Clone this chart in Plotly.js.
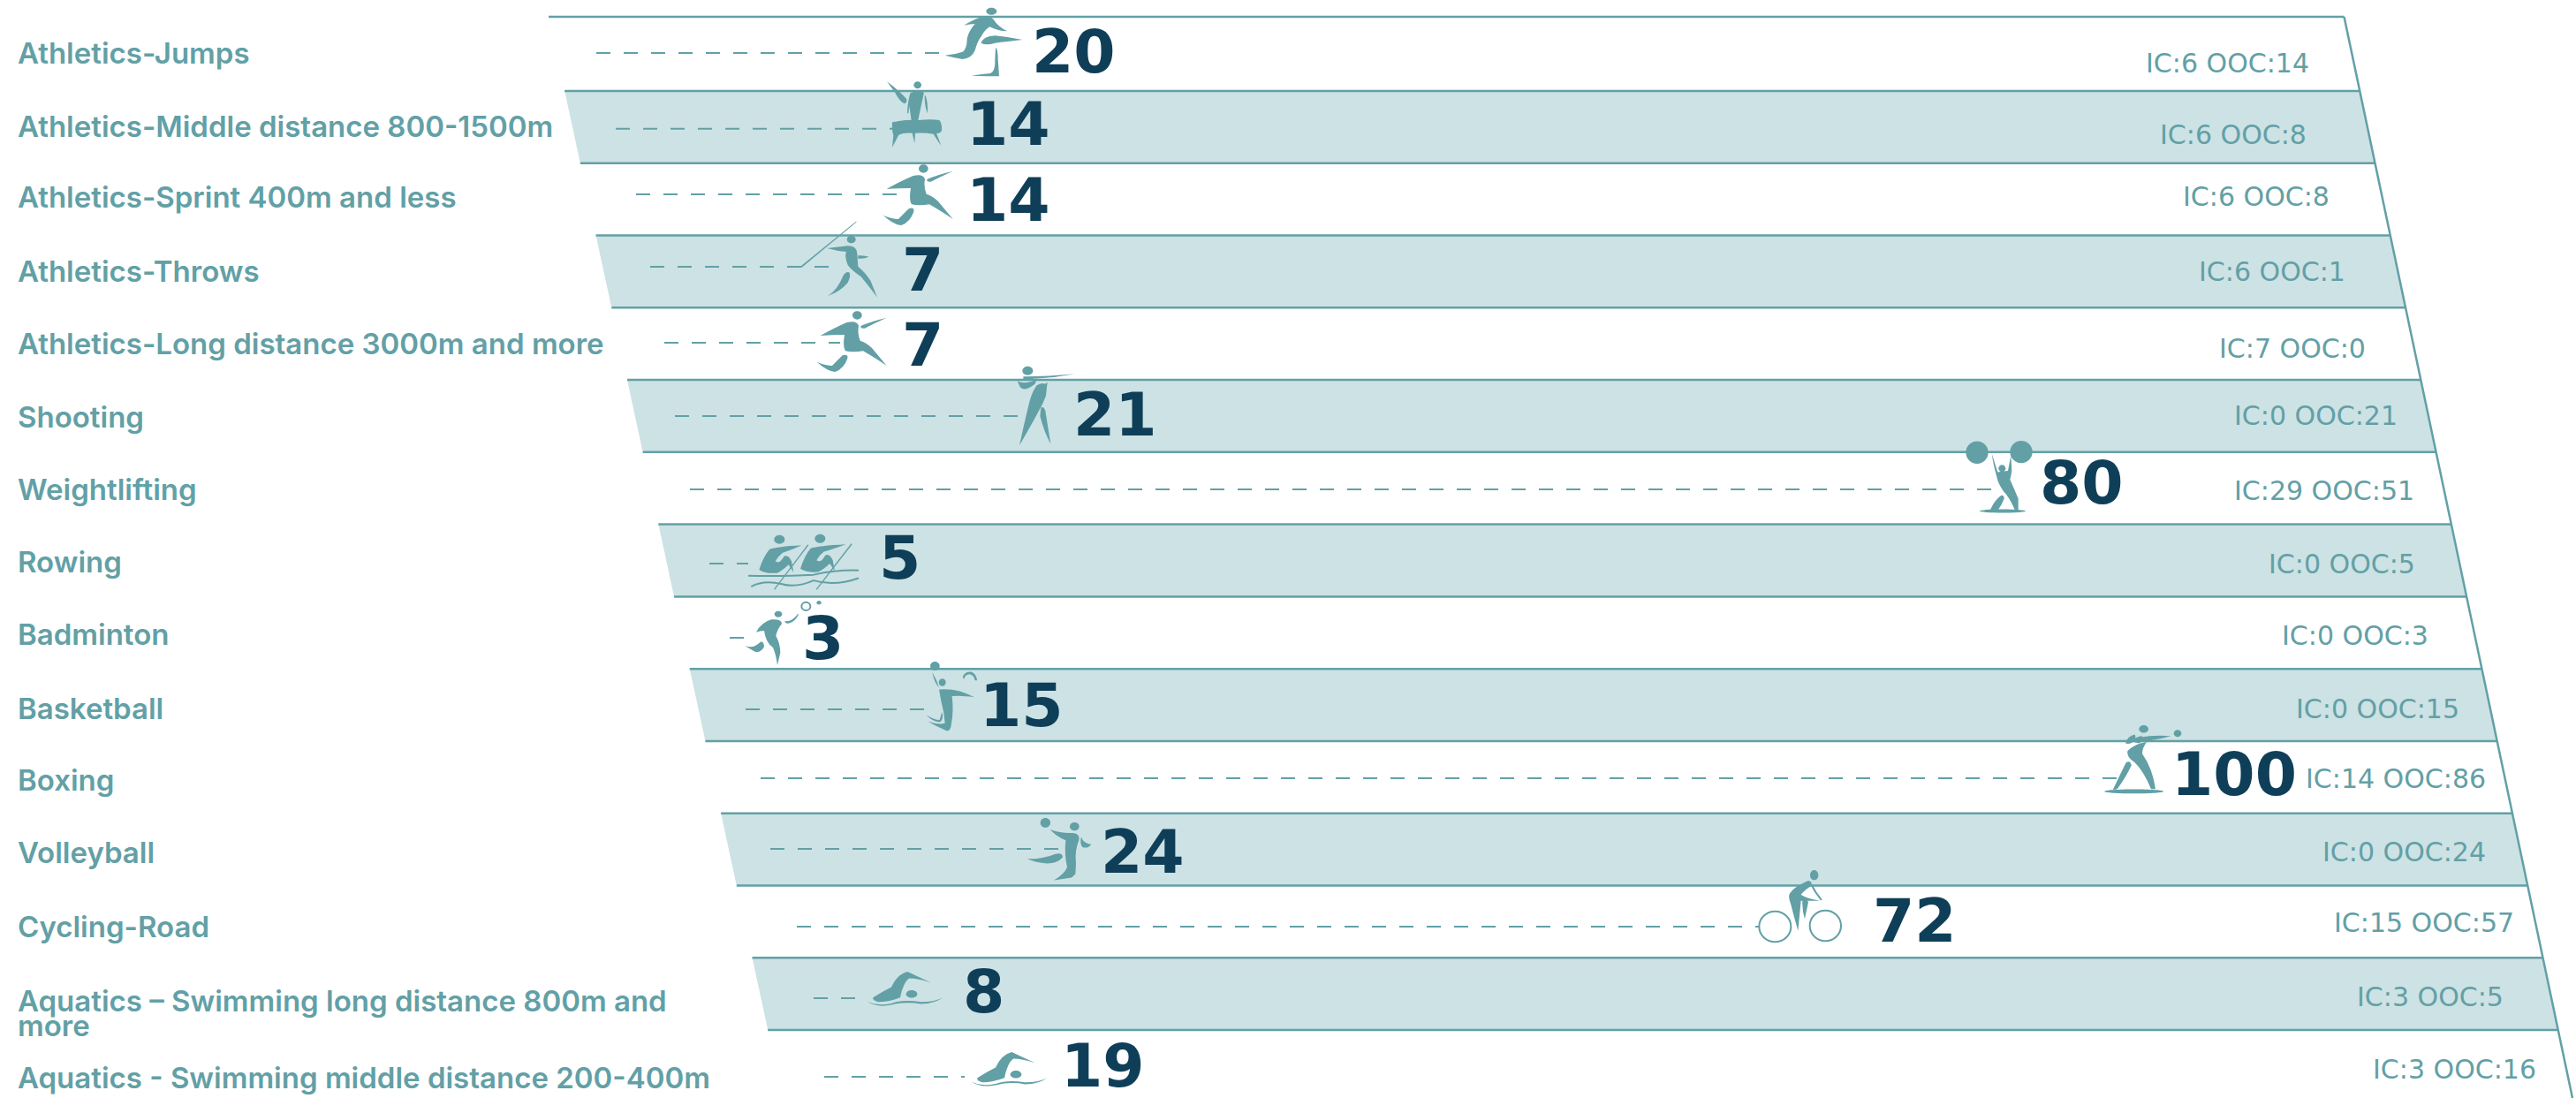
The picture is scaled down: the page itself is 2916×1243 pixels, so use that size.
<!DOCTYPE html>
<html>
<head>
<meta charset="utf-8">
<script src="https://cdn.plot.ly/plotly-3.0.1.min.js"></script>
<style>html,body{margin:0;padding:0;background:#fff}#chart{width:2916px;height:1243px}</style>
</head>
<body>
<div id="chart"></div>
<script>
/* ---------- chart data ---------- */
const categories = [
  "Athletics-Jumps", "Athletics-Middle distance 800-1500m", "Athletics-Sprint 400m and less",
  "Athletics-Throws", "Athletics-Long distance 3000m and more", "Shooting", "Weightlifting",
  "Rowing", "Badminton", "Basketball", "Boxing", "Volleyball", "Cycling-Road",
  "Aquatics – Swimming long distance 800m and<br>more", "Aquatics - Swimming middle distance 200-400m"
];
const totals = [20, 14, 14, 7, 7, 21, 80, 5, 3, 15, 100, 24, 72, 8, 19];
const inCompetition = [6, 6, 6, 6, 7, 0, 29, 0, 0, 0, 14, 0, 15, 3, 3];
const outOfCompetition = [14, 8, 8, 1, 0, 21, 51, 5, 3, 15, 86, 24, 57, 5, 16];
const icons = ["hurdler","pommel","sprinter","javelin","sprinter","shooter","lifter","rowers",
  "badminton","basketball","boxer","volleyball","cyclist","swimmer","swimmer"];

/* ---------- layout tuning (the source is a hand-placed infographic) ---------- */
const dashStartPx = [675,697,720,736,752,764,781,803,826,844,861,872,902,921,933];
const dashNudgePx = [-46,-14,-2,31,39,24,183,-33,7,7,0,19,40,40,-12];
const rowNudgePx  = [-2.1,1.8,-5.7,-5.4,-1.2,0,1.2,3.5,5.7,5,1.1,-0.7,5.6,4.8,12];
const labelGapPx  = [92,82,70,76,68,53,44,146,51,60,56,41,126,120,107];
const labelRowPx  = [-4.1,-2.9,1.3,-2.4,0.8,-1,-5.8,-3,6.3,0,-2.9,3.3,-0.4,-2.2,0];
const icLeftPx    = [2427,2443,2469,2487,2510,2527,2527,2566,2581,2597,2608,2627,2640,2666,2684];
const icRowPx     = [8.9,9.1,-2.7,-0.4,4.8,0,3.2,3.5,3.7,4,2.1,3.3,1.6,3.8,4];
const catRowPx    = [-2.6,-0.9,-2.7,-0.4,-0.2,1,1.2,1.5,1.7,4,3.6,3.3,5.6,7.8,13];
const catLineStepPx = 28;
const iconOffset  = {4:[-4,-2], 13:[6,-2]};

const TEAL = "#62a0a6", BAND = "#cde2e4", NAVY = "#0f3f58";
const ROW_H = 81.77, TOP = 21.23, FIRST_LINE = 19;
const px2v = p => (p - 800) / 16;
const py2r = p => (p - TOP) / ROW_H - 0.5;
const leftEdge = y => 621 + (y - 19) * 0.2164;
const rightEdge = y => 2653.5 + (y - 19) * 0.2112;

/* ---------- decorative pictograms, traced in zoomed-crop units ---------- */
const E = (cx, cy, rx, ry) => {
  const k = 0.5523, a = rx * k, b = ry * k;
  return `M${cx-rx} ${cy} C${cx-rx} ${cy-b} ${cx-a} ${cy-ry} ${cx} ${cy-ry} C${cx+a} ${cy-ry} ${cx+rx} ${cy-b} ${cx+rx} ${cy} C${cx+rx} ${cy+b} ${cx+a} ${cy+ry} ${cx} ${cy+ry} C${cx-a} ${cy+ry} ${cx-rx} ${cy+b} ${cx-rx} ${cy} Z`;
};
const S = d => ({d, stroke: 2});
const ICONS = {
  hurdler: {o:[583,179], sy:3, parts:[E(728,37,18,12),
    "M635 85 Q665 65 690 58 Q720 50 735 65 Q750 90 782 105 Q750 105 722 90 Q705 100 695 120 Q680 140 672 170 Q660 198 630 200 Q600 195 570 187 Q610 182 630 175 Q645 165 645 130 Q650 105 672 80 Q655 80 635 85 Z",
    "M692 145 Q700 122 740 120 Q790 125 833 134 Q780 140 740 145 Q710 155 692 145 Z",
    "M742 160 Q750 165 750 200 L754 258 Q710 258 660 256 Q700 250 725 248 Q742 240 740 200 Z"]},
  pommel: {o:[390,437], sy:3, parts:[E(476,289,13,12),
    "M372 277 Q410 305 438 335 Q442 350 432 352 Q415 345 400 315 Z",
    "M452 315 Q475 305 498 314 L490 350 L478 408 L455 408 L448 360 L445 385 L441 385 Q442 345 452 315 Z",
    "M503 325 Q512 350 510 385 Q500 365 500 325 Z",
    "M390 415 Q440 405 480 408 Q520 403 550 408 Q560 420 558 445 Q550 455 540 452 L556 494 Q545 480 530 455 Q500 450 468 452 L466 487 L458 452 Q430 450 412 458 L390 500 L394 460 Q388 445 390 415 Z"]},
  sprinter: {o:[425,661], sy:3, parts:[E(495,574,16,14),
    "M370 643 Q420 615 460 598 Q495 590 500 610 Q495 635 505 660 Q525 665 545 685 L595 745 Q550 715 515 695 Q480 700 455 695 Q445 680 452 640 Q410 640 370 643 Z",
    "M507 610 Q540 595 595 582 Q555 600 520 618 Q505 620 507 610 Z",
    "M358 732 Q390 745 410 745 Q430 725 445 710 Q465 703 462 720 Q450 755 420 766 Q395 765 358 732 Z"]},
  javelin: {o:[190,906], sy:3, parts:[E(252,813,15,13),
    "M78 906 L268 752 L270 754 L84 908 Z",
    "M170 843 Q210 838 240 835 Q270 835 272 860 L275 905 Q300 925 318 955 L340 1010 Q310 970 285 940 Q250 915 240 900 Q228 870 235 855 Q200 852 170 843 Z",
    "M275 868 Q295 866 312 872 Q295 880 275 878 Z",
    "M172 1005 Q205 985 225 935 Q235 920 245 925 Q252 935 240 960 Q215 990 172 1005 Z"]},
  shooter: {o:[1020,185], sy:2.613, parts:[E(1030,51,18,13),
    "M1015 68 Q1100 68 1190 60 Q1120 72 1050 75 Q1020 80 1015 75 Z",
    "M995 82 Q1020 92 1060 78 L1055 90 Q1020 115 1005 100 Z",
    "M1060 95 Q1075 85 1090 90 L1097 85 L1092 125 L1080 150 Q1050 200 1002 272 Q1020 200 1030 165 Q1040 120 1060 95 Z",
    "M1075 160 Q1085 155 1090 170 L1108 268 Q1085 230 1072 185 Z"]},
  lifter: {o:[135,163], sy:3, parts:[E(60,38,38,38), E(210,36,38,38), E(145,92,12,12),
    "M110 42 L130 105 Q150 100 165 100 L175 47 L178 100 Q175 120 172 130 Q190 170 200 195 L200 232 L188 232 Q170 190 150 170 Q130 140 128 125 Q115 80 110 42 Z",
    "M105 232 Q120 200 140 185 Q152 180 152 195 Q145 215 130 235 Z",
    E(147,237,78,6)]},
  rowers: {o:[78,622], sy:2.613, parts:[E(184,551,18,13), E(322,548,18,13),
    "M115 640 Q130 600 150 580 Q175 572 260 568 Q225 582 195 590 Q180 600 170 615 Q185 625 200 600 Q215 595 225 615 L232 648 L215 625 Q190 645 175 650 Q135 652 115 640 Z",
    "M255 637 Q270 597 290 577 Q315 569 410 565 Q365 579 335 587 Q320 597 310 612 Q325 622 340 597 Q355 592 365 612 L372 645 L355 622 Q330 642 315 647 Q275 649 255 637 Z",
    "M280 565 L165 698 L168 700 L283 568 Z", "M428 562 L308 698 L311 700 L431 565 Z",
    S("M78 658 Q200 660 300 655 Q380 640 453 642"),
    S("M88 690 Q130 670 190 682 Q240 695 300 672 Q370 690 453 665")]},
  badminton: {o:[105,841], sy:2.613, parts:[E(183,771,13,9),
    "M108 825 Q125 795 160 787 Q195 785 195 800 Q180 815 175 835 Q190 860 190 885 L180 922 Q175 890 165 870 Q140 855 135 820 Q120 820 108 825 Z",
    "M70 865 Q95 872 110 862 L125 852 Q135 855 135 868 Q120 890 100 880 Z",
    "M205 792 Q230 795 250 770 L252 772 Q240 795 220 798 Q205 800 205 792 Z",
    S(E(277,748,15,12)), E(321,737,8,6)]},
  basketball: {o:[680,1054], sy:2.613, parts:[E(714,926,16,13), E(739,974,12,11),
    "M705 945 Q720 965 728 990 Q712 975 705 945 Z",
    "M728 995 Q790 990 848 1018 Q800 1012 772 1015 Q778 1060 770 1095 Q768 1118 755 1118 Q720 1105 690 1090 Q725 1100 748 1095 Q745 1060 735 1030 Z",
    "M685 1070 Q710 1085 730 1085 L738 1062 Q745 1085 730 1092 Q705 1090 685 1070 Z",
    "M808 958 Q815 942 838 943 Q855 950 857 968 L850 968 Q845 950 830 950 Q815 952 813 965 Z"]},
  boxer: {o:[540,1143], sy:3, parts:[E(620,976,16,13), E(735,991,13,12),
    "M600 1005 Q660 995 712 1000 Q680 1010 640 1015 L618 1020 Z",
    "M558 1025 Q565 1000 590 995 Q595 1005 590 1015 Q575 1030 558 1025 Z",
    "M585 1020 Q590 1000 615 1000 Q620 1015 605 1025 Z",
    "M565 1050 Q590 1025 630 1020 Q615 1040 615 1060 Q650 1110 660 1180 L645 1180 Q620 1120 590 1090 Q560 1070 565 1050 Z",
    "M515 1183 Q535 1140 560 1090 Q575 1080 578 1100 Q560 1140 530 1180 Z",
    E(587,1188,100,7)]},
  volleyball: {o:[1155,1465], sy:2.613, parts:[E(1096,1388,17,14), E(1195,1399,16,12),
    "M1112 1408 Q1150 1420 1190 1418 Q1215 1420 1210 1440 Q1195 1470 1200 1510 L1198 1540 L1185 1550 L1125 1558 Q1160 1540 1170 1520 Q1160 1480 1165 1440 Q1135 1430 1112 1408 Z",
    "M1035 1495 Q1090 1495 1130 1480 Q1155 1475 1155 1490 Q1135 1510 1095 1508 Q1060 1505 1035 1495 Z",
    "M1218 1430 Q1225 1450 1252 1452 Q1240 1465 1222 1460 Q1212 1450 1218 1430 Z"]},
  cyclist: {o:[95,238], sy:3, parts:[E(280,63,14,17),
    "M195 130 Q205 105 260 82 Q275 85 270 100 Q245 115 235 130 Q260 145 300 150 Q250 150 235 150 L225 252 Q210 200 200 160 Q193 145 195 130 Z",
    "M240 150 Q250 135 260 155 L248 212 Q238 180 240 150 Z",
    S("M270 95 Q285 125 305 148"),
    S(E(147,238,54,52)), S(E(318,235,53,52))]},
  swimmer: {o:[515,446], sy:3, parts:[E(689,438,19,13),
    "M558 450 Q590 430 620 415 Q640 370 675 362 L755 400 Q710 385 680 385 Q660 400 650 450 Q610 465 575 465 Q555 460 558 450 Z",
    "M537 463 Q570 480 620 470 Q660 455 720 465 Q770 465 795 450 Q770 470 720 472 Q670 462 620 475 Q570 485 537 463 Z"]}
};
function placePath(d, icon, off) {
  const [ox, oy] = icon.o;
  return d.replace(/(-?[\d.]+)[ ,](-?[\d.]+)/g, (m, x, y) => {
    const px = (parseFloat(x) - ox) / 3 + off[0];
    const py = (parseFloat(y) - oy) / icon.sy + off[1];
    return px.toFixed(2) + " " + (-py).toFixed(2);
  });
}

/* ---------- derived positions ---------- */
const rows = categories.map((_, i) => i);
const dashEnd = totals.map((v, i) => v + dashNudgePx[i] / 16);
const dashRow = rows.map(i => i + rowNudgePx[i] / ROW_H);

/* ---------- traces ---------- */
const traces = rows.map(i => ({
  type: "scatter", mode: "lines", name: categories[i], showlegend: false, hoverinfo: "skip",
  x: [px2v(dashStartPx[i]), dashEnd[i]], y: [dashRow[i], dashRow[i]],
  line: {color: TEAL, width: 2, dash: "16px,15px"}
}));

/* ---------- shapes ---------- */
const shapes = [];
rows.filter(i => i % 2 === 1).forEach(i => {
  const y0 = TOP + ROW_H * i, y1 = y0 + ROW_H;
  const pts = [[leftEdge(y0), y0], [rightEdge(y0), y0], [rightEdge(y1), y1], [leftEdge(y1), y1]];
  const d = pts.map((p, k) => (k ? "L" : "M") + px2v(p[0]) + "," + py2r(p[1])).join(" ") + " Z";
  shapes.push({type: "path", layer: "below", xref: "x", yref: "y", path: d, fillcolor: BAND, line: {width: 0}});
});
for (let k = 0; k < 15; k++) {
  const y = k === 0 ? FIRST_LINE : TOP + ROW_H * k;
  shapes.push({type: "line", layer: "below", xref: "x", yref: "y",
    x0: px2v(leftEdge(y)), x1: px2v(rightEdge(y)), y0: py2r(y), y1: py2r(y),
    line: {color: TEAL, width: 2.5}});
}
shapes.push({type: "line", layer: "below", xref: "x", yref: "y",
  x0: px2v(rightEdge(19)), y0: py2r(19), x1: px2v(rightEdge(1243)), y1: py2r(1243),
  line: {color: TEAL, width: 2.5}});
rows.forEach(i => {
  const icon = ICONS[icons[i]], off = iconOffset[i] || [0, 0];
  icon.parts.forEach(p => {
    const stroked = typeof p !== "string";
    shapes.push({type: "path", layer: "above", xref: "x", yref: "y",
      xsizemode: "pixel", ysizemode: "pixel", xanchor: dashEnd[i], yanchor: dashRow[i],
      path: placePath(stroked ? p.d : p, icon, off),
      fillcolor: stroked ? "rgba(0,0,0,0)" : TEAL,
      line: stroked ? {color: TEAL, width: p.stroke} : {width: 0}});
  });
});

/* ---------- text ---------- */
const annotations = [];
rows.forEach(i => {
  categories[i].split("<br>").forEach((line, n) => {
    annotations.push({xref: "paper", yref: "y", x: 18 / 2916, y: i, yshift: -(catRowPx[i] + n * catLineStepPx), text: line,
      xanchor: "left", yanchor: "middle", align: "left", showarrow: false,
      font: {family: "Inter, sans-serif", size: 33, weight: 600, color: TEAL}});
  });
  annotations.push({xref: "x", yref: "y", x: dashEnd[i], xshift: labelGapPx[i], y: i, yshift: -labelRowPx[i],
    text: String(totals[i]), xanchor: "left", yanchor: "middle", showarrow: false,
    font: {family: "DejaVu Sans, sans-serif", size: 68, weight: 700, color: NAVY}});
  annotations.push({xref: "x", yref: "y", x: px2v(icLeftPx[i]), y: i, yshift: -icRowPx[i],
    text: `IC:${inCompetition[i]} OOC:${outOfCompetition[i]}`, xanchor: "left", yanchor: "middle", showarrow: false,
    font: {family: "DejaVu Sans, sans-serif", size: 30, color: TEAL}});
});

const layout = {
  width: 2916, height: 1243, margin: {l: 0, r: 0, t: 0, b: 0},
  paper_bgcolor: "#fff", plot_bgcolor: "#fff", showlegend: false,
  xaxis: {visible: false, range: [px2v(0), px2v(2916)], fixedrange: true},
  yaxis: {visible: false, range: [py2r(1243), py2r(0)], fixedrange: true},
  shapes, annotations
};
Plotly.newPlot("chart", traces, layout, {displayModeBar: false, staticPlot: true});
</script>
</body>
</html>
